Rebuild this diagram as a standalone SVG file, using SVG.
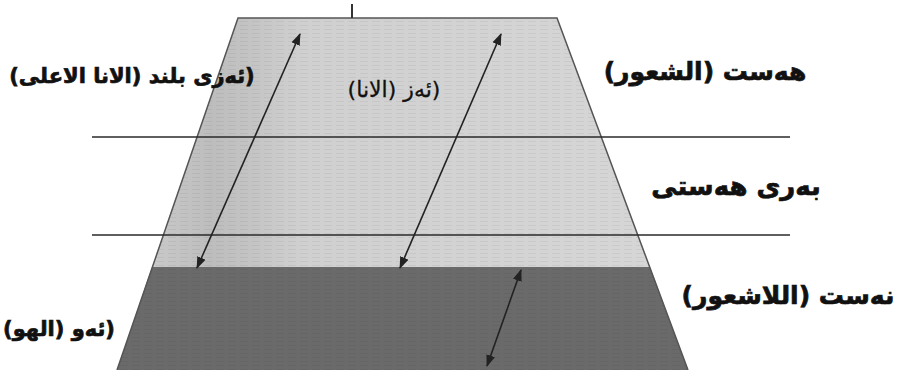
<svg xmlns="http://www.w3.org/2000/svg" width="900" height="370" viewBox="0 0 900 370">
  <defs>
    <style>
      .lbl { font-family: "DejaVu Sans", sans-serif; fill: #111; text-anchor: middle; direction: rtl; }
      .b { font-weight: bold; stroke: #111; stroke-width: 0.7; }
      .edge { stroke: #555; stroke-width: 1.5; fill: none; }
      .hline { stroke: #2a2a2a; stroke-width: 1.5; }
      .arrow { stroke: #222; stroke-width: 1.6; fill: none; marker-start: url(#ah); marker-end: url(#ah); }
    </style>
    <marker id="ah" viewBox="0 0 12 10" refX="11" refY="5" markerWidth="12" markerHeight="10" markerUnits="userSpaceOnUse" orient="auto-start-reverse">
      <path d="M0,0.5 L12,5 L0,9.5 Z" fill="#222"/>
    </marker>
    <linearGradient id="lightG" x1="0" y1="0" x2="1" y2="0">
      <stop offset="0" stop-color="#c9c9c9"/>
      <stop offset="0.12" stop-color="#bdbdbd"/>
      <stop offset="0.2" stop-color="#c4c4c4"/>
      <stop offset="0.3" stop-color="#d0d0d0"/>
      <stop offset="1" stop-color="#d6d6d6"/>
    </linearGradient>
    <pattern id="scan" width="12" height="4" patternUnits="userSpaceOnUse">
      <rect x="0" y="1" width="8" height="1" fill="#000" opacity="0.05"/>
    </pattern>
  </defs>
  <rect width="900" height="370" fill="#ffffff"/>

  <g id="layer-conscious">
    <polygon points="238,18 557,18 650,267 152,267" fill="url(#lightG)"/>
    <polygon points="238,18 557,18 650,267 152,267" fill="url(#scan)"/>
  </g>
  <g id="layer-unconscious">
    <polygon points="152,267 650,267 688,370 117,370" fill="#6a6a6a"/>
    <polygon points="152,267 650,267 688,370 117,370" fill="url(#scan)"/>
  </g>
  <g id="outline">
    <polyline class="edge" points="117,370 238,18 557,18 688,370"/>
    <line x1="352" y1="4" x2="352" y2="18" stroke="#333" stroke-width="2"/>
    <line class="hline" x1="92" y1="137" x2="790" y2="137"/>
    <line class="hline" x1="92" y1="235" x2="790" y2="235"/>
  </g>

  <g id="connectors">
    <line class="arrow" x1="197" y1="268" x2="300" y2="34"/>
    <line class="arrow" x1="400" y1="268" x2="501" y2="34"/>
    <line class="arrow" x1="487" y1="366" x2="521" y2="270"/>
  </g>

  <g id="label-superego">
    <text class="lbl b" x="132" y="83" font-size="21">(ئەزی بلند (الانا الاعلى)</text>
  </g>
  <g id="label-ego">
    <text class="lbl" x="394" y="97" font-size="22" stroke="#111" stroke-width="0.3">(ئەز (الانا)</text>
  </g>
  <g id="label-conscious">
    <text class="lbl b" x="705" y="80" font-size="25">هەست (الشعور)</text>
  </g>
  <g id="label-preconscious">
    <text class="lbl b" x="736" y="195" font-size="26">بەری هەستی</text>
  </g>
  <g id="label-unconscious">
    <text class="lbl b" x="788" y="304" font-size="25">نەست (اللاشعور)</text>
  </g>
  <g id="label-id">
    <text class="lbl b" x="59" y="336" font-size="21">(ئەو (الهو)</text>
  </g>
</svg>
